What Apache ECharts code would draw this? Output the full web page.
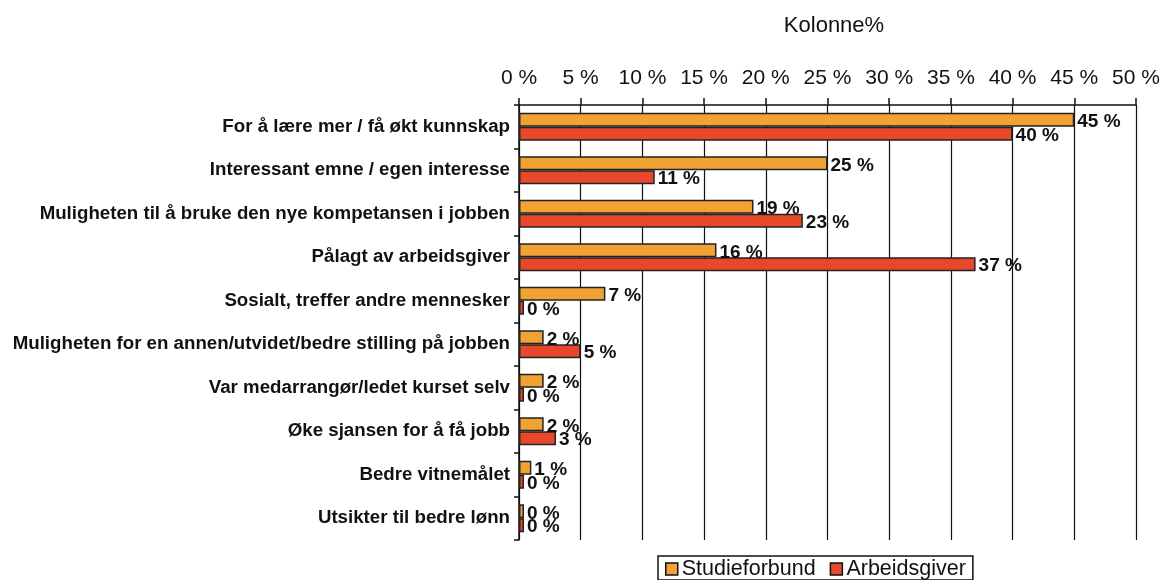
<!DOCTYPE html>
<html>
<head>
<meta charset="utf-8">
<script src="https://cdn.jsdelivr.net/npm/echarts@6/dist/echarts.min.js"></script>
<style>
  html, body { margin: 0; padding: 0; background: #fff; }
  #chart { width: 1160px; height: 580px; }
</style>
</head>
<body>
<div id="chart"></div>
<script>
// kategorier, ovenfra og ned
let kategorier = [
  'For å lære mer / få økt kunnskap',
  'Interessant emne / egen interesse',
  'Muligheten til å bruke den nye kompetansen i jobben',
  'Pålagt av arbeidsgiver',
  'Sosialt, treffer andre mennesker',
  'Muligheten for en annen/utvidet/bedre stilling på jobben',
  'Var medarrangør/ledet kurset selv',
  'Øke sjansen for å få jobb',
  'Bedre vitnemålet',
  'Utsikter til bedre lønn'
]
let studieforbund = [45, 25, 19, 16, 7, 2, 2, 2, 1, 0]
let arbeidsgiver = [40, 11, 23, 37, 0, 5, 0, 3, 0, 0]
let xTicks = [0, 5, 10, 15, 20, 25, 30, 35, 40, 45, 50]

let font = '"Liberation Sans", Arial, sans-serif'

let label = {
  show: true,
  position: 'right',
  distance: 3,
  offset: [0, 2],
  color: '#111',
  fontFamily: font,
  fontWeight: 'bold',
  fontSize: 19,
  formatter: p => p.value + ' %'
}

function serie(navn, data, farge) {
  return {
    name: navn,
    type: 'bar',
    data: data,
    barGap: '0%',
    barCategoryGap: '36%',
    barMinHeight: 5,
    itemStyle: { color: farge, borderColor: '#222', borderWidth: 1.5 },
    label: label
  }
}

var myChart = echarts.init(document.getElementById('chart'))
var option = {
  backgroundColor: '#fff',
  animation: false,
  title: {
    text: 'Kolonne%',
    left: 829,
    top: 10,
    textAlign: 'center',
    textStyle: { fontFamily: font, fontWeight: 'normal', fontSize: 22, color: '#111' }
  },
  legend: {
    bottom: 0,
    left: 658,
    itemWidth: 12,
    itemHeight: 12,
    itemGap: 14,
    padding: [2, 7, 0, 7],
    borderColor: '#111',
    borderWidth: 1.5,
    icon: 'rect',
    itemStyle: { borderColor: '#111', borderWidth: 1.5 },
    textStyle: { fontFamily: font, fontSize: 21.5, color: '#111', padding: [0, 0, 0, -1] },
    data: ['Studieforbund', 'Arbeidsgiver']
  },
  grid: { left: 519, right: 24, top: 105, bottom: 40, outerBoundsMode: 'none' },
  xAxis: {
    type: 'value',
    position: 'top',
    min: 0,
    max: 50,
    interval: 5,
    axisLine: { show: true, lineStyle: { color: '#111', width: 1.5 } },
    axisTick: { show: true, length: 7, lineStyle: { color: '#111', width: 1.5 } },
    axisLabel: {
      fontFamily: font, fontSize: 21, color: '#111', margin: 16,
      formatter: v => xTicks.includes(v) ? v + ' %' : ''
    },
    splitLine: { show: true, lineStyle: { color: '#111', width: 1.2 } }
  },
  yAxis: {
    type: 'category',
    inverse: true,
    data: kategorier,
    axisLine: { show: true, lineStyle: { color: '#111', width: 1.5 } },
    axisTick: { show: true, length: 5, lineStyle: { color: '#111', width: 1.5 } },
    axisLabel: { fontFamily: font, fontWeight: 'bold', fontSize: 18.7, color: '#111', margin: 9 }
  },
  series: [
    serie('Studieforbund', studieforbund, '#f0a232'),
    serie('Arbeidsgiver', arbeidsgiver, '#e8472c')
  ]
}
myChart.setOption(option)
</script>
</body>
</html>
